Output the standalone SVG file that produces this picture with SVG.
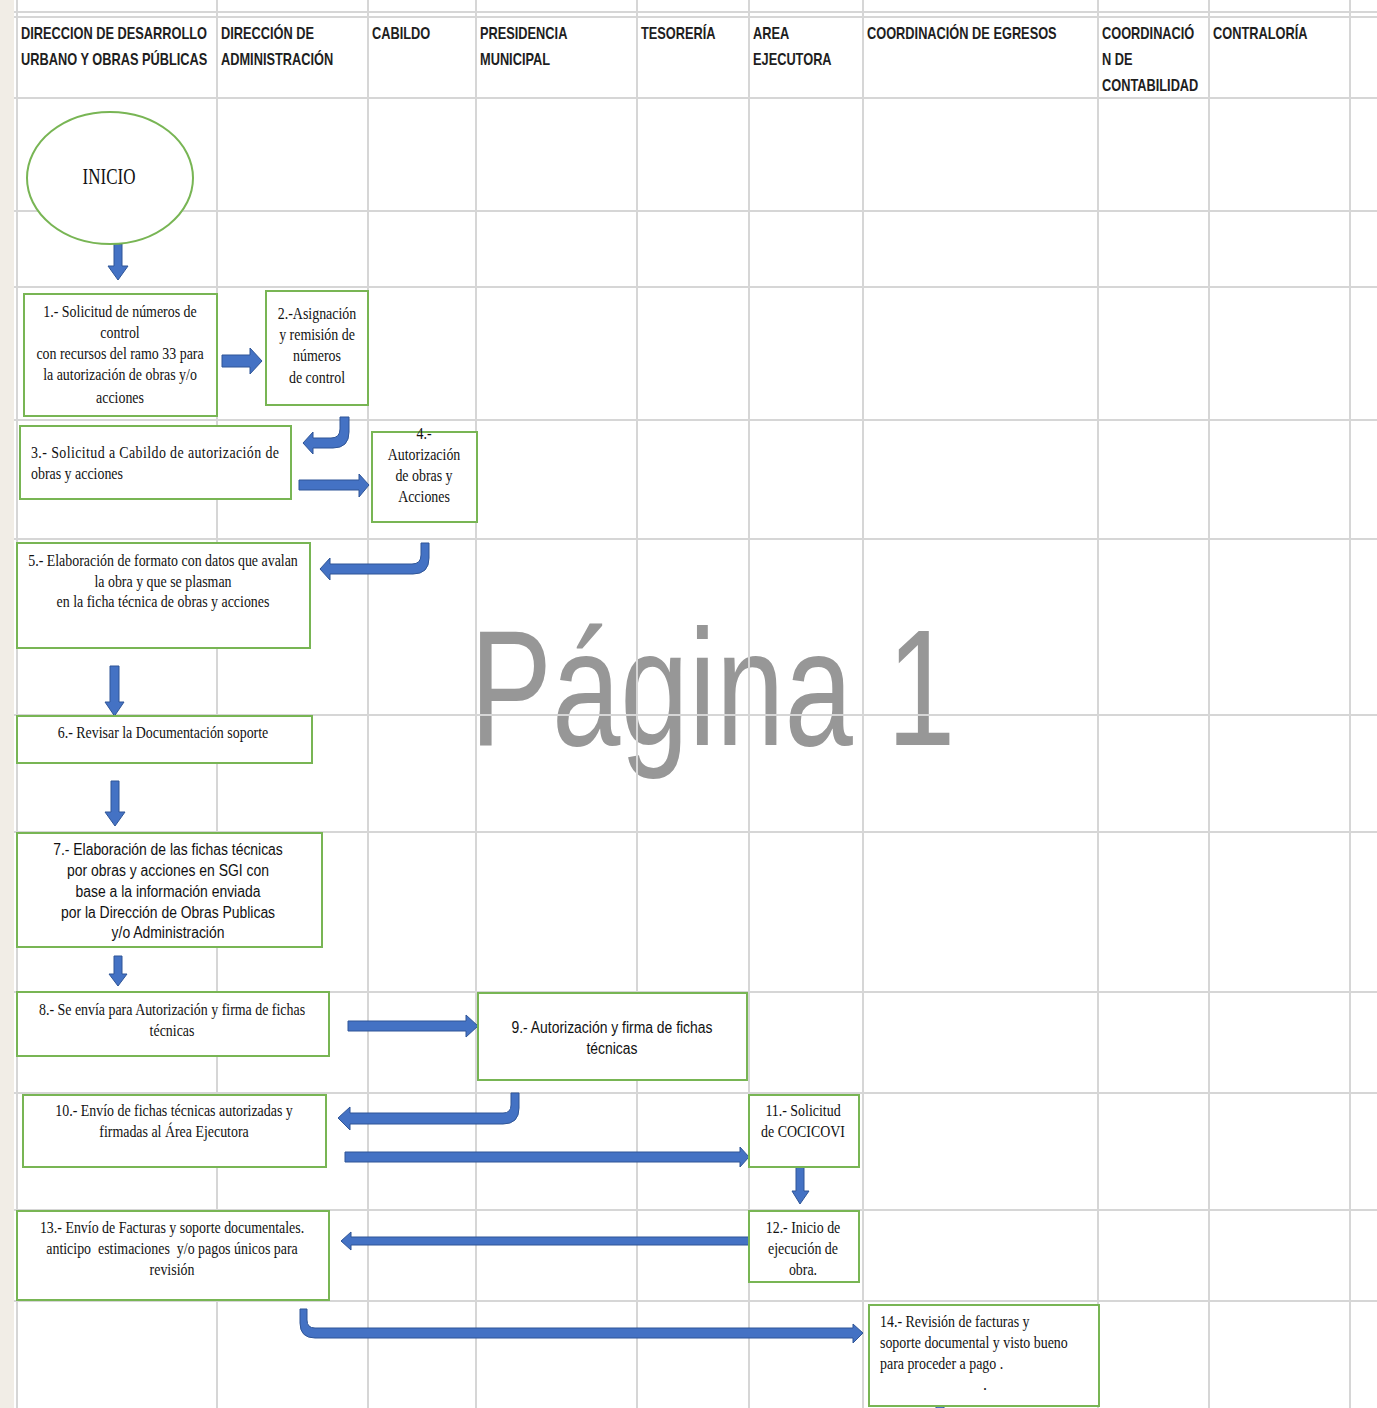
<svg xmlns="http://www.w3.org/2000/svg" width="1377" height="1408" viewBox="0 0 1377 1408">
<defs>
<style>
.grid line{stroke:#d6d6d6;stroke-width:2}
.h{font-family:"Liberation Sans",Arial,sans-serif;font-weight:bold;font-size:16px;fill:#1e1e1e}
.t{font-family:"Liberation Serif","Times New Roman",serif;font-size:16px;fill:#111}
.u{font-family:"Liberation Sans",Arial,sans-serif;font-size:16px;fill:#111}
.box{fill:#fff;stroke:#78b554;stroke-width:2}
.arr{fill:#4472c4;stroke:#2f5597;stroke-width:1}
.wm{font-family:"Liberation Sans",Arial,sans-serif;font-size:165px;fill:#979797}
</style>
</defs>
<rect x="0" y="0" width="1377" height="1408" fill="#fff"/>
<rect x="0" y="0" width="14" height="1408" fill="#f1ede6"/>
<text class="wm" transform="translate(470,0) scale(0.745,1)" x="0" y="745">Página 1</text>
<g class="grid" id="grid">
<line x1="14" y1="12" x2="1377" y2="12"/>
<line x1="14" y1="17" x2="1377" y2="17"/>
<line x1="14" y1="98" x2="1377" y2="98"/>
<line x1="14" y1="211" x2="1377" y2="211"/>
<line x1="14" y1="287" x2="1377" y2="287"/>
<line x1="14" y1="420" x2="1377" y2="420"/>
<line x1="14" y1="539" x2="1377" y2="539"/>
<line x1="14" y1="715" x2="1377" y2="715"/>
<line x1="14" y1="832" x2="1377" y2="832"/>
<line x1="14" y1="992" x2="1377" y2="992"/>
<line x1="14" y1="1093" x2="1377" y2="1093"/>
<line x1="14" y1="1210" x2="1377" y2="1210"/>
<line x1="14" y1="1301" x2="1377" y2="1301"/>
<line x1="17" y1="0" x2="17" y2="1408"/>
<line x1="217" y1="0" x2="217" y2="1408"/>
<line x1="368" y1="0" x2="368" y2="1408"/>
<line x1="476" y1="0" x2="476" y2="1408"/>
<line x1="637" y1="0" x2="637" y2="1408"/>
<line x1="749" y1="0" x2="749" y2="1408"/>
<line x1="863" y1="0" x2="863" y2="1408"/>
<line x1="1098" y1="0" x2="1098" y2="1408"/>
<line x1="1209" y1="0" x2="1209" y2="1408"/>
<line x1="1350" y1="0" x2="1350" y2="1408"/>
</g>
<g id="headers">
<text class="h" transform="translate(21,0) scale(0.8,1)"><tspan x="0" y="39">DIRECCION DE DESARROLLO</tspan><tspan x="0" y="65">URBANO Y OBRAS PÚBLICAS</tspan></text>
<text class="h" transform="translate(221,0) scale(0.8,1)"><tspan x="0" y="39">DIRECCIÓN DE</tspan><tspan x="0" y="65">ADMINISTRACIÓN</tspan></text>
<text class="h" transform="translate(372,0) scale(0.8,1)"><tspan x="0" y="39">CABILDO</tspan></text>
<text class="h" transform="translate(480,0) scale(0.8,1)"><tspan x="0" y="39">PRESIDENCIA</tspan><tspan x="0" y="65">MUNICIPAL</tspan></text>
<text class="h" transform="translate(641,0) scale(0.8,1)"><tspan x="0" y="39">TESORERÍA</tspan></text>
<text class="h" transform="translate(753,0) scale(0.8,1)"><tspan x="0" y="39">AREA</tspan><tspan x="0" y="65">EJECUTORA</tspan></text>
<text class="h" transform="translate(867,0) scale(0.8,1)"><tspan x="0" y="39">COORDINACIÓN DE EGRESOS</tspan></text>
<text class="h" transform="translate(1102,0) scale(0.8,1)"><tspan x="0" y="39">COORDINACIÓ</tspan><tspan x="0" y="65">N DE</tspan><tspan x="0" y="91">CONTABILIDAD</tspan></text>
<text class="h" transform="translate(1213,0) scale(0.8,1)"><tspan x="0" y="39">CONTRALORÍA</tspan></text>
</g>
<g id="connectors">
<path class="arr" d="M114,244 H122 V266 H128 L118,280 L108,266 H114 Z"/>
<path class="arr" d="M222,355 H250 V348 L262,361 L250,374 V367 H222 Z"/>
<path class="arr" d="M340,417 H349 V432 Q349,448 333,448 H313 V454 L303,443 L313,432 V438 H331 Q340,438 340,429 Z"/>
<path class="arr" d="M299,480 H359 V474 L369,485 L359,497 V490 H299 Z"/>
<path class="arr" d="M421,543 H429 V558 Q429,574 413,574 H330 V580 L320,569 L330,558 V564 H412 Q421,564 421,555 Z"/>
<path class="arr" d="M110,666 H119 V702 H124 L114.5,716 L105,702 H110 Z"/>
<path class="arr" d="M111,781 H119 V812 H125 L115,826 L105,812 H111 Z"/>
<path class="arr" d="M114,956 H122 V974 H127 L118,986 L109,974 H114 Z"/>
<path class="arr" d="M348,1021 H466 V1015 L478,1026 L466,1037 V1031 H348 Z"/>
<path class="arr" d="M511,1093 H519 V1108 Q519,1124 503,1124 H350 V1130 L338,1118 L350,1107 V1113 H503 Q511,1113 511,1105 Z"/>
<path class="arr" d="M345,1152 H740 V1147 L749,1157 L740,1167 V1162 H345 Z"/>
<path class="arr" d="M796,1164 H804 V1191 H809 L800,1204 L792,1191 H796 Z"/>
<path class="arr" d="M749,1237 H351 V1232 L341,1241 L351,1250 V1245 H749 Z"/>
<path class="arr" d="M300,1309 H307 V1320 Q307,1328 315,1328 H853 V1324 L863,1333 L853,1343 V1338 H315 Q300,1338 300,1323 Z"/>
<rect class="arr" x="936" y="1403" width="8" height="6"/>
</g>
<g id="inicio">
<ellipse cx="110" cy="178" rx="83" ry="66" fill="#fff" stroke="#78b554" stroke-width="2"/>
<text class="t" style="font-size:23px" transform="translate(109,0) scale(0.74,1)" x="0" y="184" text-anchor="middle">INICIO</text>
</g>
<g id="n1">
<rect class="box" x="24" y="294" width="193" height="122"/>
<text class="t" text-anchor="middle" transform="translate(120,0) scale(0.87,1)"><tspan x="0" y="317">1.- Solicitud de números de</tspan><tspan x="0" y="338">control</tspan><tspan x="0" y="359">con recursos del ramo 33 para</tspan><tspan x="0" y="380">la autorización de obras y/o</tspan><tspan x="0" y="403">acciones</tspan></text>
</g>
<g id="n2">
<rect class="box" x="266" y="291" width="102" height="114"/>
<text class="t" text-anchor="middle" transform="translate(317,0) scale(0.87,1)"><tspan x="0" y="319">2.-Asignación</tspan><tspan x="0" y="340">y remisión de</tspan><tspan x="0" y="361">números</tspan><tspan x="0" y="383">de control</tspan></text>
</g>
<g id="n3">
<rect class="box" x="20" y="426" width="271" height="73"/>
<text class="t" transform="translate(31,0) scale(0.87,1)"><tspan x="0" y="458" textLength="285" lengthAdjust="spacing">3.- Solicitud a Cabildo de autorización de</tspan><tspan x="0" y="479">obras y acciones</tspan></text>
</g>
<g id="n4">
<rect class="box" x="372" y="432" width="105" height="90"/>
<text class="t" text-anchor="middle" transform="translate(424,0) scale(0.87,1)"><tspan x="0" y="439">4.-</tspan><tspan x="0" y="460">Autorización</tspan><tspan x="0" y="481">de obras y</tspan><tspan x="0" y="502">Acciones</tspan></text>
</g>
<g id="n5">
<rect class="box" x="17" y="543" width="293" height="105"/>
<text class="t" text-anchor="middle" transform="translate(163,0) scale(0.87,1)"><tspan x="0" y="566">5.- Elaboración de formato con datos que avalan</tspan><tspan x="0" y="587">la obra y que se plasman</tspan><tspan x="0" y="607">en la ficha técnica de obras y acciones</tspan></text>
</g>
<g id="n6">
<rect class="box" x="17" y="716" width="295" height="47"/>
<text class="t" text-anchor="middle" transform="translate(163,0) scale(0.87,1)"><tspan x="0" y="738">6.- Revisar la Documentación soporte</tspan></text>
</g>
<g id="n7">
<rect class="box" x="17" y="833" width="305" height="114"/>
<text class="u" text-anchor="middle" transform="translate(168,0) scale(0.87,1)"><tspan x="0" y="855">7.- Elaboración de las fichas técnicas</tspan><tspan x="0" y="876">por obras y acciones en SGI con</tspan><tspan x="0" y="897">base a la información enviada</tspan><tspan x="0" y="918">por la Dirección de Obras Publicas</tspan><tspan x="0" y="938">y/o Administración</tspan></text>
</g>
<g id="n8">
<rect class="box" x="17" y="992" width="312" height="64"/>
<text class="t" text-anchor="middle" transform="translate(172,0) scale(0.87,1)"><tspan x="0" y="1015">8.- Se envía para Autorización y firma de fichas</tspan><tspan x="0" y="1036">técnicas</tspan></text>
</g>
<g id="n9">
<rect class="box" x="478" y="993" width="269" height="87"/>
<text class="u" text-anchor="middle" transform="translate(612,0) scale(0.87,1)"><tspan x="0" y="1033">9.- Autorización y firma de fichas</tspan><tspan x="0" y="1054">técnicas</tspan></text>
</g>
<g id="n10">
<rect class="box" x="23" y="1095" width="303" height="72"/>
<text class="t" text-anchor="middle" transform="translate(174,0) scale(0.87,1)"><tspan x="0" y="1116">10.- Envío de fichas técnicas autorizadas y</tspan><tspan x="0" y="1137">firmadas al Área Ejecutora</tspan></text>
</g>
<g id="n11">
<rect class="box" x="749" y="1095" width="110" height="72"/>
<text class="t" text-anchor="middle" transform="translate(803,0) scale(0.87,1)"><tspan x="0" y="1116">11.- Solicitud</tspan><tspan x="0" y="1137">de COCICOVI</tspan></text>
</g>
<g id="n12">
<rect class="box" x="749" y="1211" width="110" height="71"/>
<text class="t" text-anchor="middle" transform="translate(803,0) scale(0.87,1)"><tspan x="0" y="1233">12.- Inicio de</tspan><tspan x="0" y="1254">ejecución de</tspan><tspan x="0" y="1275">obra.</tspan></text>
</g>
<g id="n13">
<rect class="box" x="17" y="1211" width="312" height="89"/>
<text class="t" text-anchor="middle" transform="translate(172,0) scale(0.87,1)" xml:space="preserve"><tspan x="0" y="1233">13.- Envío de Facturas y soporte documentales.</tspan><tspan x="0" y="1254">anticipo  estimaciones  y/o pagos únicos para</tspan><tspan x="0" y="1275">revisión</tspan></text>
</g>
<g id="n14">
<rect class="box" x="869" y="1305" width="230" height="101"/>
<text class="t" transform="translate(880,0) scale(0.87,1)"><tspan x="0" y="1327">14.- Revisión de facturas y</tspan><tspan x="0" y="1348">soporte documental y visto bueno</tspan><tspan x="0" y="1369">para proceder a pago .</tspan></text>
<text class="t" x="983" y="1390">.</text>
</g>
</svg>
